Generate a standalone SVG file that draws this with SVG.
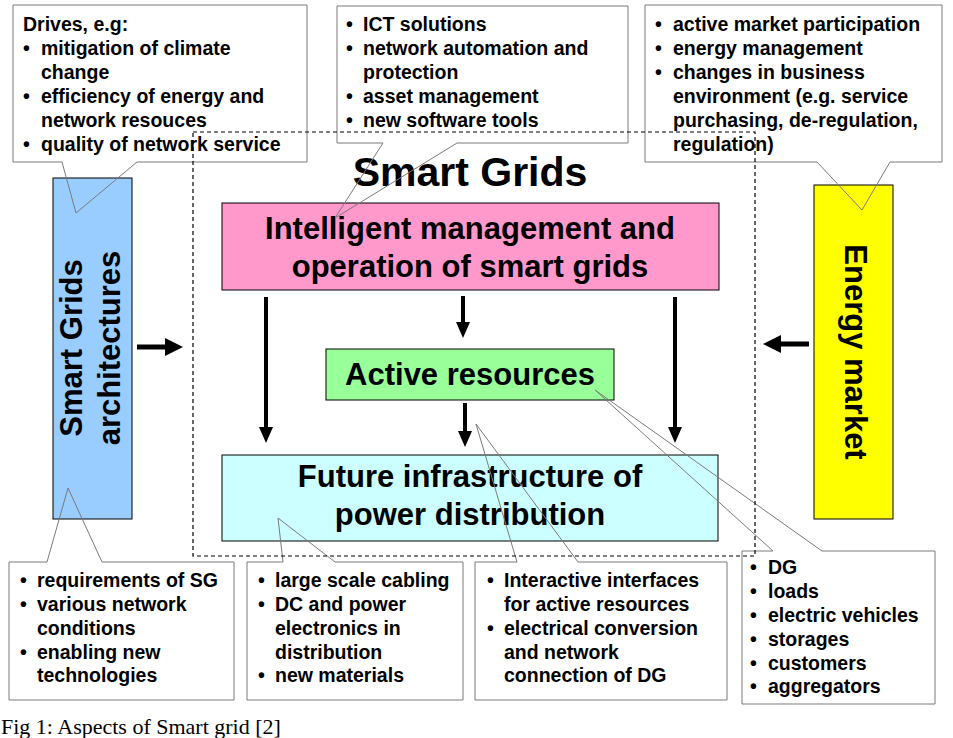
<svg xmlns="http://www.w3.org/2000/svg" width="953" height="738" viewBox="0 0 953 738">
<style>
  text { font-family: "Liberation Sans", Arial, sans-serif; font-weight: bold; fill: #000; }
  .c { font-size: 19.5px; }
  .big { font-size: 31px; text-anchor: middle; }
  .title { font-size: 41px; text-anchor: middle; }
  .node { stroke: #000; stroke-width: 1; }
  .cbg { fill: #fff; stroke: none; }
  .cout { fill: none; stroke: #7a7a7a; stroke-width: 1; }
  .arr { stroke: #000; stroke-width: 4; fill: none; marker-end: url(#ah); }
  .harr { stroke: #000; stroke-width: 5; fill: none; marker-end: url(#ahb); }
  .dash { fill: none; stroke: #000; stroke-width: 1.2; stroke-dasharray: 4 3; }
  .cap { font-family: "Liberation Serif", "Times New Roman", serif; font-weight: normal; font-size: 22px; }
</style>
<defs>
  <marker id="ah" markerUnits="userSpaceOnUse" markerWidth="16" markerHeight="14" refX="1" refY="7" orient="auto">
    <path d="M0,0 L16,7 L0,14 Z" fill="#000"/>
  </marker>
  <marker id="ahb" markerUnits="userSpaceOnUse" markerWidth="18" markerHeight="18" refX="1" refY="9" orient="auto">
    <path d="M0,0 L18,9 L0,18 Z" fill="#000"/>
  </marker>
</defs>
<rect width="953" height="738" fill="#fff"/>

<g id="sg-architectures">
  <rect class="node" x="53" y="178" width="79" height="341" fill="#99CCFF"/>
  <text class="big" transform="translate(82,348) rotate(-90)">Smart Grids</text>
  <text class="big" transform="translate(120,348) rotate(-90)">architectures</text>
</g>
<g id="energy-market">
  <rect class="node" x="814" y="185" width="79" height="334" fill="#FFFF00"/>
  <text class="big" transform="translate(845,352) rotate(90)">Energy market</text>
</g>
<g id="smart-grids-title">
  <text class="title" x="470" y="186">Smart Grids</text>
</g>
<g id="intelligent-management">
  <rect class="node" x="222" y="203" width="497" height="87" fill="#FF99CC"/>
  <text class="big" x="470" y="239">Intelligent management and</text>
  <text class="big" x="470" y="277">operation of smart grids</text>
</g>
<g id="active-resources">
  <rect class="node" x="326" y="349" width="288" height="51" fill="#99FF99"/>
  <text class="big" x="470" y="385">Active resources</text>
</g>
<g id="future-infrastructure">
  <rect class="node" x="222" y="455" width="496" height="86" fill="#CCFFFF"/>
  <text class="big" x="470" y="487">Future infrastructure of</text>
  <text class="big" x="470" y="525">power distribution</text>
</g>

<g id="connectors">
  <line class="harr" x1="137" y1="347" x2="166" y2="347"/>
  <line class="harr" x1="809" y1="344" x2="780" y2="344"/>
  <line class="arr" x1="266" y1="297" x2="266" y2="428"/>
  <line class="arr" x1="463" y1="296" x2="463" y2="323"/>
  <line class="arr" x1="465" y1="403" x2="465" y2="432"/>
  <line class="arr" x1="675" y1="297" x2="675" y2="428"/>
</g>

<g id="callout-drives">
  <rect class="cbg" x="13" y="5" width="294" height="157"/>
  <path class="cout" d="M13,5 H307 V162 H137 L76,213 L62,162 H13 Z"/>
  <text class="c" x="23" y="31">Drives, e.g:</text>
  <text class="c" x="23" y="55">•</text><text class="c" x="41" y="55">mitigation of climate</text>
  <text class="c" x="41" y="79">change</text>
  <text class="c" x="23" y="103">•</text><text class="c" x="41" y="103">efficiency of energy and</text>
  <text class="c" x="41" y="127">network resouces</text>
  <text class="c" x="23" y="151">•</text><text class="c" x="41" y="151">quality of network service</text>
</g>
<g id="callout-ict">
  <rect class="cbg" x="337" y="6" width="291" height="137"/>
  <path class="cout" d="M337,6 H628 V143 H457 L335,218 L383,143 H337 Z"/>
  <text class="c" x="346" y="31">•</text><text class="c" x="363" y="31">ICT solutions</text>
  <text class="c" x="346" y="55">•</text><text class="c" x="363" y="55">network automation and</text>
  <text class="c" x="363" y="79">protection</text>
  <text class="c" x="346" y="103">•</text><text class="c" x="363" y="103">asset management</text>
  <text class="c" x="346" y="127">•</text><text class="c" x="363" y="127">new software tools</text>
</g>
<g id="callout-market">
  <rect class="cbg" x="645" y="5" width="297" height="157"/>
  <path class="cout" d="M645,5 H942 V162 H890 L862,210 L817,162 H645 Z"/>
  <text class="c" x="655" y="31">•</text><text class="c" x="673" y="31">active market participation</text>
  <text class="c" x="655" y="55">•</text><text class="c" x="673" y="55">energy management</text>
  <text class="c" x="655" y="79">•</text><text class="c" x="673" y="79">changes in business</text>
  <text class="c" x="673" y="103">environment (e.g. service</text>
  <text class="c" x="673" y="127">purchasing, de-regulation,</text>
  <text class="c" x="673" y="151">regulation)</text>
</g>
<g id="callout-requirements">
  <rect class="cbg" x="9" y="562" width="225" height="138"/>
  <path class="cout" d="M9,562 H47 L68,488 L102,562 H234 V700 H9 Z"/>
  <text class="c" x="20" y="587">•</text><text class="c" x="37" y="587">requirements of SG</text>
  <text class="c" x="20" y="611">•</text><text class="c" x="37" y="611">various network</text>
  <text class="c" x="37" y="635">conditions</text>
  <text class="c" x="20" y="659">•</text><text class="c" x="37" y="659">enabling new</text>
  <text class="c" x="37" y="682">technologies</text>
</g>
<g id="callout-cabling">
  <rect class="cbg" x="247" y="562" width="216" height="138"/>
  <path class="cout" d="M247,562 H283 L278,518 L335,562 H463 V700 H247 Z"/>
  <text class="c" x="258" y="587">•</text><text class="c" x="275" y="587">large scale cabling</text>
  <text class="c" x="258" y="611">•</text><text class="c" x="275" y="611">DC and power</text>
  <text class="c" x="275" y="635">electronics in</text>
  <text class="c" x="275" y="659">distribution</text>
  <text class="c" x="258" y="682">•</text><text class="c" x="275" y="682">new materials</text>
</g>
<g id="callout-interfaces">
  <rect class="cbg" x="475" y="562" width="252" height="138"/>
  <path class="cout" d="M475,562 H517 L476,424 L578,562 H727 V700 H475 Z"/>
  <text class="c" x="487" y="587">•</text><text class="c" x="504" y="587">Interactive interfaces</text>
  <text class="c" x="504" y="611">for active resources</text>
  <text class="c" x="487" y="635">•</text><text class="c" x="504" y="635">electrical conversion</text>
  <text class="c" x="504" y="659">and network</text>
  <text class="c" x="504" y="682">connection of DG</text>
</g>
<g id="callout-resources">
  <rect class="cbg" x="742" y="551" width="193" height="153"/>
  <path class="cout" d="M742,551 H773 L595,390 L822,551 H935 V704 H742 Z"/>
  <text class="c" x="750" y="574">•</text><text class="c" x="768" y="574">DG</text>
  <text class="c" x="750" y="598">•</text><text class="c" x="768" y="598">loads</text>
  <text class="c" x="750" y="622">•</text><text class="c" x="768" y="622">electric vehicles</text>
  <text class="c" x="750" y="646">•</text><text class="c" x="768" y="646">storages</text>
  <text class="c" x="750" y="670">•</text><text class="c" x="768" y="670">customers</text>
  <text class="c" x="750" y="693">•</text><text class="c" x="768" y="693">aggregators</text>
</g>

<g id="smart-grids-boundary">
  <rect class="dash" x="193" y="132" width="562" height="424"/>
</g>

<g id="caption">
  <text class="cap" x="1" y="734">Fig 1: Aspects of Smart grid [2]</text>
</g>
</svg>
